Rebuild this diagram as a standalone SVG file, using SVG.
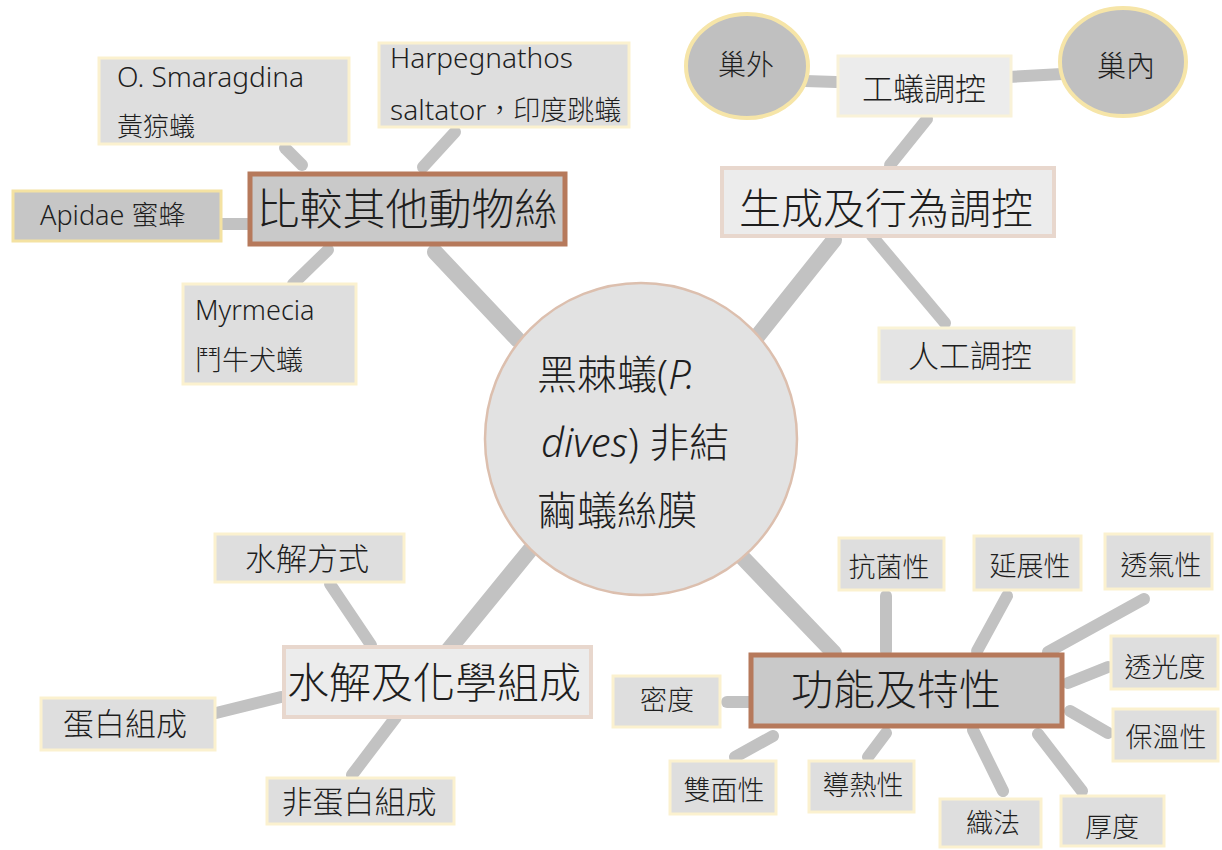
<svg xmlns="http://www.w3.org/2000/svg" width="1222" height="850" viewBox="0 0 1222 850">
<style>
text{font-family:"Noto Sans","Noto Sans CJK TC",sans-serif;fill:#1e1e1e;font-weight:300}
.c{text-anchor:middle}
.lf{fill:#dedede;stroke:#fbf1cf;stroke-width:3}
.ld{fill:#c6c6c6;stroke:#f4e2a2;stroke-width:3}
.mn{fill:#c9c9c9;stroke:#b6795b;stroke-width:5}
.sb{fill:#ececec;stroke:#e8d7cd;stroke-width:4}
.el{fill:#c0c0c0;stroke:#f6e5a8;stroke-width:4}
.ln{stroke:#c2c2c2;stroke-width:12;stroke-linecap:round;fill:none}
.tk{stroke-width:16}
.f27{font-size:27px}.f30{font-size:30px}.f42{font-size:42px}
</style>
<rect width="1222" height="850" fill="#ffffff"/>
<g id="connectors">
<line class="ln" x1="285" y1="148" x2="302" y2="165"/>
<line class="ln" x1="455" y1="132" x2="423" y2="167"/>
<line class="ln" x1="222" y1="224" x2="250" y2="224"/>
<line class="ln" x1="293" y1="284" x2="328" y2="250"/>
<line class="ln tk" x1="435" y1="252" x2="518" y2="340"/>
<line class="ln" x1="805" y1="81" x2="836" y2="82"/>
<line class="ln" x1="1008" y1="77" x2="1062" y2="74"/>
<line class="ln" x1="927" y1="119" x2="890" y2="165"/>
<line class="ln" x1="872" y1="236" x2="945" y2="323"/>
<line class="ln tk" x1="834" y1="240" x2="756" y2="338"/>
<line class="ln tk" x1="530" y1="550" x2="446" y2="653"/>
<line class="ln" x1="330" y1="584" x2="371" y2="645"/>
<line class="ln" x1="216" y1="713" x2="281" y2="697"/>
<line class="ln" x1="396" y1="717" x2="352" y2="775"/>
<line class="ln tk" x1="743" y1="558" x2="834" y2="653"/>
<line class="ln" x1="886" y1="596" x2="886" y2="651"/>
<line class="ln" x1="1007" y1="596" x2="977" y2="651"/>
<line class="ln" x1="1144" y1="599" x2="1048" y2="652"/>
<line class="ln" x1="1108" y1="667" x2="1068" y2="683"/>
<line class="ln" x1="1070" y1="711" x2="1108" y2="733"/>
<line class="ln" x1="727" y1="702" x2="749" y2="702"/>
<line class="ln" x1="735" y1="757" x2="773" y2="736"/>
<line class="ln" x1="868" y1="757" x2="886" y2="733"/>
<line class="ln" x1="973" y1="730" x2="1003" y2="791"/>
<line class="ln" x1="1038" y1="734" x2="1082" y2="791"/>
</g>
<g id="center">
<circle cx="641" cy="439" r="156" fill="#e2e2e2" stroke="#dcbfae" stroke-width="2.5"/>
<text x="537" y="389" style="font-size:40px">黑棘蟻(<tspan font-style="italic">P.</tspan></text>
<text x="541" y="457" style="font-size:40px"><tspan font-style="italic">dives</tspan>) 非結</text>
<text x="537" y="525" style="font-size:40px">繭蟻絲膜</text>
</g>
<g id="compare">
<rect class="mn" x="250" y="174" width="315" height="70"/>
<text class="c" x="407" y="225" style="font-size:43px">比較其他動物絲</text>
</g>
<g id="osmaragdina">
<rect class="lf" x="99" y="58" width="250" height="86"/>
<text x="117" y="87" style="font-size:28px">O. Smaragdina</text>
<text x="117" y="136" style="font-size:26px">黃猄蟻</text>
</g>
<g id="harpegnathos">
<rect class="lf" x="379" y="43" width="250" height="84"/>
<text x="390" y="68" style="font-size:28px">Harpegnathos</text>
<text x="390" y="120" style="font-size:27px"><tspan style="font-size:28px">saltator</tspan>，印度跳蟻</text>
</g>
<g id="apidae">
<rect class="ld" x="13" y="191" width="208" height="50"/>
<text x="40" y="225" style="font-size:27px">Apidae 蜜蜂</text>
</g>
<g id="myrmecia">
<rect class="lf" x="183" y="284" width="173" height="100"/>
<text x="195" y="320" style="font-size:27px">Myrmecia</text>
<text x="195" y="370" style="font-size:27px">鬥牛犬蟻</text>
</g>
<g id="regulation">
<rect class="sb" x="722" y="168" width="332" height="68" fill="#eeeeee"/>
<text class="c" x="886" y="224" style="font-size:42px">生成及行為調控</text>
</g>
<g id="worker">
<rect x="838" y="56" width="173" height="60" fill="#ececec" stroke="#f9f2d8" stroke-width="3"/>
<text class="c" x="924" y="100" style="font-size:31px">工蟻調控</text>
</g>
<g id="outside">
<ellipse class="el" cx="747" cy="66" rx="61" ry="52"/>
<text class="c" x="746" y="75" style="font-size:28px">巢外</text>
</g>
<g id="inside">
<ellipse class="el" cx="1123" cy="62" rx="63" ry="54"/>
<text class="c" x="1126" y="77" style="font-size:29px">巢內</text>
</g>
<g id="artificial">
<rect x="879" y="328" width="195" height="54" fill="#e4e4e4" stroke="#faf3d6" stroke-width="3"/>
<text class="c" x="970" y="367" style="font-size:31px">人工調控</text>
</g>
<g id="hydrolysis">
<rect class="sb" x="284" y="647" width="307" height="70" fill="#e8e8e8" stroke="#ecd6cb"/>
<text class="c f42" x="434" y="698">水解及化學組成</text>
</g>
<g id="method">
<rect class="lf" x="215" y="534" width="189" height="48"/>
<text class="c" x="307" y="570" style="font-size:31px">水解方式</text>
</g>
<g id="protein">
<rect class="lf" x="41" y="698" width="174" height="52"/>
<text class="c" x="125" y="735" style="font-size:31px">蛋白組成</text>
</g>
<g id="nonprotein">
<rect class="lf" x="267" y="778" width="187" height="46"/>
<text class="c" x="359" y="813" style="font-size:31px">非蛋白組成</text>
</g>
<g id="function">
<rect class="mn" x="751" y="655" width="311" height="71"/>
<text class="c f42" x="896" y="705">功能及特性</text>
</g>
<g id="antibacterial">
<rect class="lf" x="839" y="538" width="105" height="52"/>
<text class="c f27" x="889" y="577">抗菌性</text>
</g>
<g id="ductility">
<rect class="lf" x="974" y="536" width="107" height="54"/>
<text class="c f27" x="1030" y="576">延展性</text>
</g>
<g id="breath">
<rect class="lf" x="1105" y="534" width="107" height="55"/>
<text class="c f27" x="1161" y="575">透氣性</text>
</g>
<g id="transmit">
<rect class="lf" x="1111" y="636" width="107" height="53"/>
<text class="c f27" x="1165" y="677">透光度</text>
</g>
<g id="warmth">
<rect class="lf" x="1113" y="709" width="105" height="52"/>
<text class="c f27" x="1166" y="747">保溫性</text>
</g>
<g id="density">
<rect class="lf" x="613" y="676" width="107" height="51"/>
<text class="c f27" x="667" y="710">密度</text>
</g>
<g id="doublesided">
<rect class="lf" x="670" y="761" width="106" height="53"/>
<text class="c f27" x="724" y="800">雙面性</text>
</g>
<g id="thermal">
<rect class="lf" x="809" y="761" width="105" height="51"/>
<text class="c f27" x="863" y="795">導熱性</text>
</g>
<g id="weave">
<rect class="lf" x="940" y="799" width="101" height="48"/>
<text class="c f27" x="993" y="833">織法</text>
</g>
<g id="thickness">
<rect class="lf" x="1061" y="796" width="103" height="50"/>
<text class="c f27" x="1112" y="837">厚度</text>
</g>
</svg>
